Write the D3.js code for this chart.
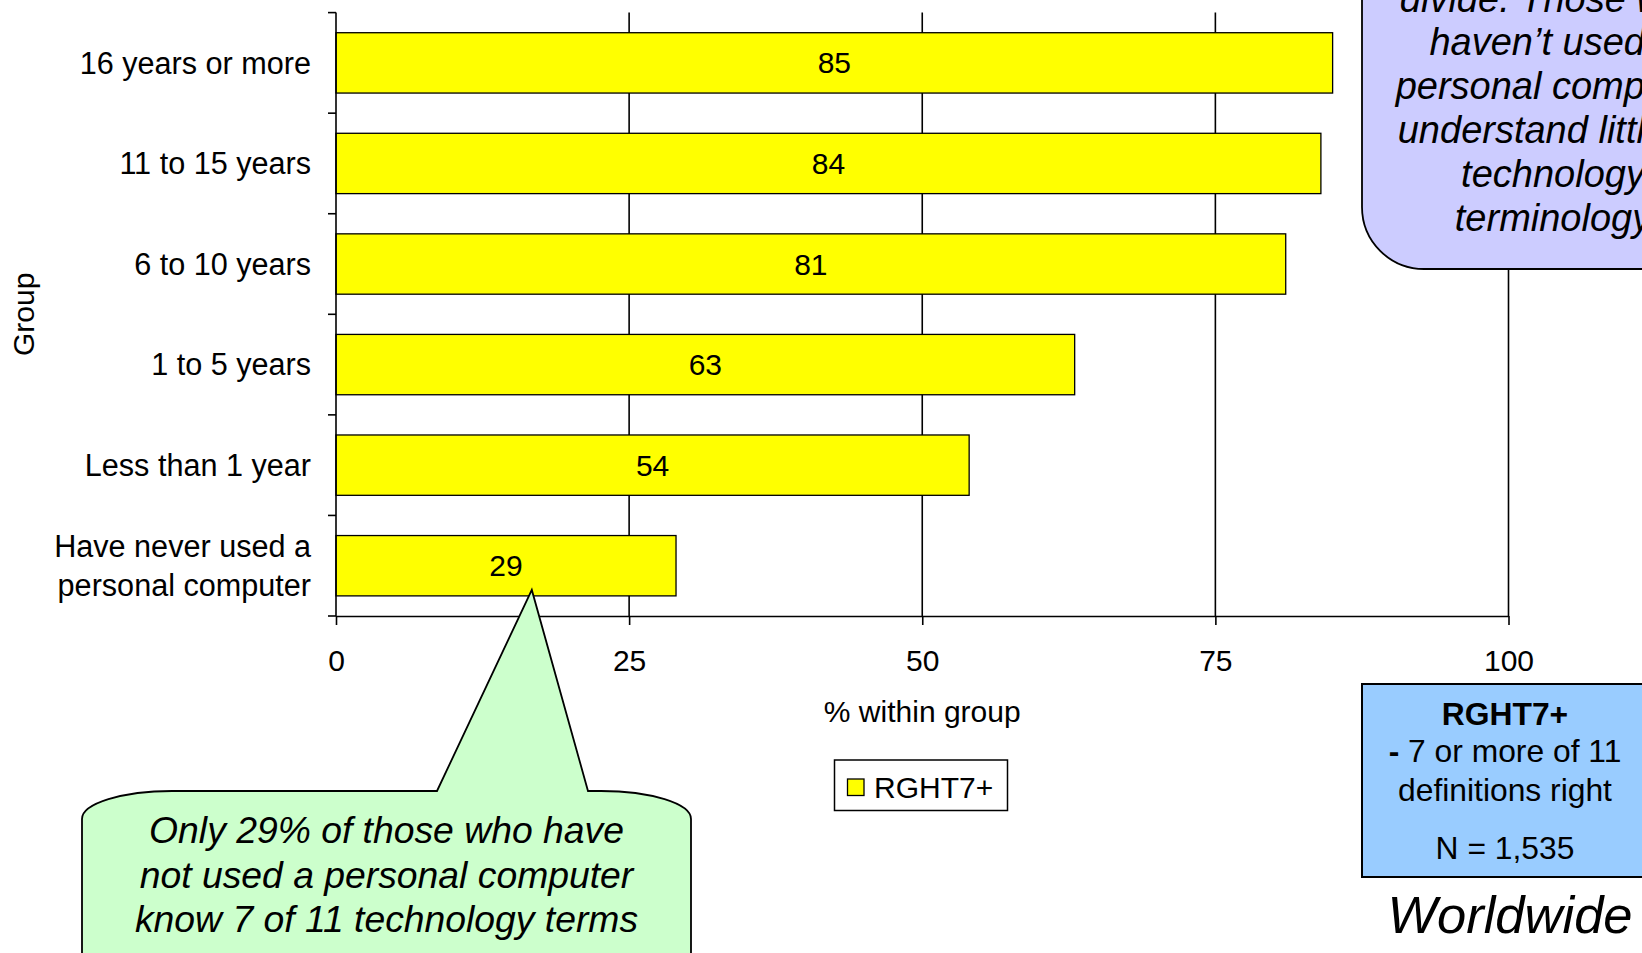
<!DOCTYPE html>
<html>
<head>
<meta charset="utf-8">
<script src="https://cdn.jsdelivr.net/npm/d3@7/dist/d3.min.js"></script>
<style>
  html, body { margin: 0; padding: 0; background: #ffffff; }
  svg { display: block; }
  text { font-family: "Liberation Sans", Arial, sans-serif; fill: #000; }
</style>
</head>
<body>
<svg id="chart" width="1642" height="953"></svg>
<script>
// ---- data ----
const categories = [
  "16 years or more",
  "11 to 15 years",
  "6 to 10 years",
  "1 to 5 years",
  "Less than 1 year",
  "Have never used a\npersonal computer"
];
const values = [85, 84, 81, 63, 54, 29];
const xTicks = [0, 25, 50, 75, 100];
const seriesName = "RGHT7+";
const xTitle = "% within group";
const yTitle = "Group";

const noteTopRight = ["divide. Those who", "haven\u2019t used a", "personal computer",
                      "understand little of", "technology", "terminology"];
const noteBottom = ["Only 29% of those who have", "not used a personal computer",
                    "know 7 of 11 technology terms"];
const defLines = ["7 or more of 11", "definitions right", "N = 1,535"];
const regionLabel = "Worldwide";

// ---- layout ----
const W = 1642, H = 953;
const plot = { left: 336, right: 1508.5, top: 12.6, bottom: 616 };
const lineW = 1.6;
const fontSize = 30;
const catFont = 30.6;

const svg = d3.select("#chart");

const x = d3.scaleLinear().domain([0, 100]).range([plot.left, plot.right]);
const y = d3.scaleBand().domain(categories).range([plot.top, plot.bottom])
  .paddingInner(0.4).paddingOuter(0.2);
const step = y.step();

// vertical gridlines
svg.append("g").selectAll("line")
  .data(xTicks.filter(d => d > 0))
  .join("line")
  .attr("x1", d => x(d)).attr("x2", d => x(d))
  .attr("y1", plot.top).attr("y2", plot.bottom)
  .attr("stroke", "#000").attr("stroke-width", lineW);

// bars
const rows = categories.map((c, i) => ({ cat: c, val: values[i] }));
svg.append("g").selectAll("rect")
  .data(rows)
  .join("rect")
  .attr("x", x(0))
  .attr("y", d => y(d.cat))
  .attr("width", d => x(d.val) - x(0))
  .attr("height", y.bandwidth())
  .attr("fill", "#ffff00")
  .attr("stroke", "#000")
  .attr("stroke-width", 1.3);

// value labels centred in bars
svg.append("g").selectAll("text")
  .data(rows)
  .join("text")
  .attr("x", d => (x(0) + x(d.val)) / 2)
  .attr("y", d => y(d.cat) + y.bandwidth() / 2)
  .attr("dy", "0.35em")
  .attr("text-anchor", "middle")
  .attr("font-size", fontSize)
  .text(d => d.val);

// x axis
const xAxis = d3.axisBottom(x).tickValues(xTicks).tickSize(9).tickSizeOuter(0).tickPadding(25);
const gx = svg.append("g").attr("transform", `translate(0,${plot.bottom})`).call(xAxis);
gx.select(".domain").attr("stroke", "#000").attr("stroke-width", lineW);
gx.selectAll(".tick line").attr("stroke", "#000").attr("stroke-width", lineW);
gx.selectAll(".tick text").attr("font-size", fontSize)
  .attr("font-family", '"Liberation Sans", Arial, sans-serif').attr("fill", "#000");

// y axis: line plus ticks on band boundaries
const boundaries = categories.map((c, i) => plot.top + i * step);
boundaries.push(plot.bottom);
const gy = svg.append("g");
gy.append("line")
  .attr("x1", plot.left).attr("x2", plot.left)
  .attr("y1", plot.top).attr("y2", plot.bottom)
  .attr("stroke", "#000").attr("stroke-width", lineW);
gy.selectAll("line.tick")
  .data(boundaries)
  .join("line")
  .attr("class", "tick")
  .attr("x1", plot.left - 8).attr("x2", plot.left)
  .attr("y1", d => d).attr("y2", d => d)
  .attr("stroke", "#000").attr("stroke-width", lineW);

// category labels (multi-line where needed)
const lineGap = 38.6;
const catLabels = svg.append("g").selectAll("text")
  .data(categories)
  .join("text")
  .attr("text-anchor", "end")
  .attr("font-size", catFont)
  .attr("x", plot.left - 25)
  .attr("y", d => y(d) + y.bandwidth() / 2);
catLabels.each(function (d) {
  const parts = d.split("\n");
  const t = d3.select(this);
  parts.forEach((p, i) => {
    t.append("tspan")
      .attr("x", plot.left - 25)
      .attr("dy", i === 0 ? (0.35 * catFont - (parts.length - 1) * lineGap / 2) : lineGap)
      .text(p);
  });
});

// axis titles
svg.append("text")
  .attr("x", (plot.left + plot.right) / 2).attr("y", 722)
  .attr("text-anchor", "middle").attr("font-size", fontSize)
  .text(xTitle);
svg.append("text")
  .attr("transform", `translate(34,${(plot.top + plot.bottom) / 2}) rotate(-90)`)
  .attr("text-anchor", "middle").attr("font-size", fontSize)
  .text(yTitle);

// legend
const lg = svg.append("g");
lg.append("rect").attr("x", 834.5).attr("y", 760).attr("width", 173).attr("height", 50.5)
  .attr("fill", "#fff").attr("stroke", "#000").attr("stroke-width", 1.5);
lg.append("rect").attr("x", 847.5).attr("y", 779).attr("width", 16.5).attr("height", 16.5)
  .attr("fill", "#ffff00").attr("stroke", "#000").attr("stroke-width", 1.3);
lg.append("text").attr("x", 874).attr("y", 798).attr("font-size", fontSize).text(seriesName);

// top-right rounded callout
svg.append("rect")
  .attr("x", 1362).attr("y", -120).attr("width", 400).attr("height", 389)
  .attr("rx", 62).attr("ry", 62)
  .attr("fill", "#ccccff").attr("stroke", "#000").attr("stroke-width", 1.8);
svg.append("g").selectAll("text")
  .data(noteTopRight)
  .join("text")
  .attr("x", 1553).attr("y", (d, i) => 11.5 + i * 43.8)
  .attr("text-anchor", "middle").attr("font-size", 38).attr("font-style", "italic")
  .text(d => d);

// definition box
svg.append("rect")
  .attr("x", 1362).attr("y", 684).attr("width", 400).attr("height", 193)
  .attr("fill", "#99ccff").attr("stroke", "#000").attr("stroke-width", 2);
const defX = 1505, defFont = 31.8;
svg.append("text").attr("x", defX).attr("y", 725).attr("text-anchor", "middle")
  .attr("font-size", defFont).attr("font-weight", "bold").text(seriesName);
const defLine = svg.append("text").attr("x", defX).attr("y", 762)
  .attr("text-anchor", "middle").attr("font-size", defFont);
defLine.append("tspan").attr("font-weight", "bold").text("- ");
defLine.append("tspan").text(defLines[0]);
svg.append("text").attr("x", defX).attr("y", 800.5).attr("text-anchor", "middle")
  .attr("font-size", defFont).text(defLines[1]);
svg.append("text").attr("x", defX).attr("y", 859).attr("text-anchor", "middle")
  .attr("font-size", defFont).text(defLines[2]);

svg.append("text").attr("x", 1510).attr("y", 933).attr("text-anchor", "middle")
  .attr("font-size", 52.5).attr("font-style", "italic").text(regionLabel);

// bottom speech bubble pointing at the last bar
const lastCat = categories[categories.length - 1];
const tipX = x(16.7), tipY = y(lastCat) + y.bandwidth() - 6;
const bx0 = 82, bx1 = 691, by = 791, rx = 90, ry = 28;
const bubble = d3.path();
bubble.moveTo(bx0, H + 40);
bubble.lineTo(bx0, by + ry);
bubble.bezierCurveTo(bx0, by + ry * 0.45, bx0 + rx * 0.45, by, bx0 + rx, by);
bubble.lineTo(437, by);
bubble.lineTo(tipX, tipY);
bubble.lineTo(588, by);
bubble.lineTo(bx1 - rx, by);
bubble.bezierCurveTo(bx1 - rx * 0.45, by, bx1, by + ry * 0.45, bx1, by + ry);
bubble.lineTo(bx1, H + 40);
bubble.closePath();
svg.append("path").attr("d", bubble.toString())
  .attr("fill", "#ccffcc").attr("stroke", "#000").attr("stroke-width", 1.8);
svg.append("g").selectAll("text")
  .data(noteBottom)
  .join("text")
  .attr("x", (bx0 + bx1) / 2).attr("y", (d, i) => 843 + i * 44.5)
  .attr("text-anchor", "middle").attr("font-size", 37.3).attr("font-style", "italic")
  .text(d => d);
</script>
</body>
</html>
